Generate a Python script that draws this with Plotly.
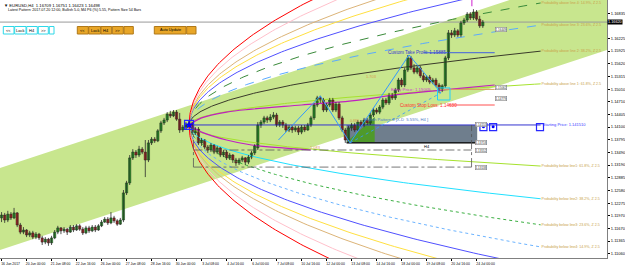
import numpy as np
import plotly.graph_objects as go

# ---------------- data ----------------
bar_open = [
 1.1192,1.1199,1.1187,1.1201,1.1192,1.1204,1.1175,1.1158,1.1163,1.1151,
 1.1156,1.1146,1.1153,1.1144,1.1134,1.1141,1.1132,1.1144,1.1158,1.1168,
 1.1161,1.1165,1.1158,1.1170,1.1163,1.1173,1.1165,1.1156,1.1168,1.1161,
 1.1170,1.1163,1.1173,1.1182,1.1189,1.1180,1.1192,1.1185,1.1177,1.1187,
 1.1252,1.1276,1.1336,1.1350,1.1343,1.1357,1.1350,1.1331,1.1372,1.1381,
 1.1377,1.1401,1.1420,1.1427,1.1441,1.1437,1.1446,1.1429,1.1403,1.1410,
 1.1415,1.1417,1.1396,1.1405,1.1372,1.1379,1.1362,1.1355,1.1367,1.1350,
 1.1360,1.1343,1.1350,1.1336,1.1343,1.1331,1.1324,1.1331,1.1336,1.1326,
 1.1338,1.1348,1.1360,1.1415,1.1422,1.1432,1.1427,1.1434,1.1439,1.1415,
 1.1422,1.1415,1.1403,1.1410,1.1403,1.1408,1.1398,1.1410,1.1403,1.1415,
 1.1432,1.1463,1.1480,1.1475,1.1451,1.1463,1.1475,1.1451,1.1465,1.1432,
 1.1403,1.1379,1.1408,1.1415,1.1403,1.1422,1.1415,1.1427,1.1420,1.1439,
 1.1451,1.1446,1.1458,1.1475,1.1468,1.1487,1.1480,1.1499,1.1523,1.1511,
 1.1547,1.1576,1.1552,1.1542,1.1552,1.1533,1.1523,1.1530,1.1518,1.1523,
 1.1511,1.1499,1.1509,1.1576,1.1636,1.1631,1.1641,1.1631,1.1660,1.1667,
 1.1681,1.1672,1.1686,1.1669,1.1653]
bar_high = [
 1.1206,1.1204,1.1209,1.1206,1.1216,1.1206,1.1180,1.1170,1.1165,1.1161,
 1.1161,1.1158,1.1156,1.1149,1.1146,1.1144,1.1149,1.1163,1.1173,1.1170,
 1.1170,1.1168,1.1175,1.1175,1.1177,1.1177,1.1170,1.1173,1.1173,1.1175,
 1.1175,1.1177,1.1187,1.1194,1.1194,1.1206,1.1197,1.1189,1.1192,1.1259,
 1.1281,1.1343,1.1357,1.1355,1.1365,1.1362,1.1379,1.1379,1.1386,1.1386,
 1.1405,1.1425,1.1432,1.1446,1.1449,1.1451,1.1451,1.1444,1.1415,1.1422,
 1.1425,1.1422,1.1410,1.1410,1.1384,1.1381,1.1367,1.1372,1.1369,1.1365,
 1.1362,1.1355,1.1355,1.1348,1.1345,1.1336,1.1336,1.1341,1.1338,1.1343,
 1.1353,1.1369,1.1422,1.1427,1.1437,1.1437,1.1441,1.1446,1.1444,1.1427,
 1.1427,1.1420,1.1415,1.1415,1.1413,1.1413,1.1415,1.1415,1.1420,1.1437,
 1.1468,1.1485,1.1485,1.1480,1.1468,1.1480,1.1480,1.1470,1.1470,1.1437,
 1.1408,1.1413,1.1420,1.1420,1.1427,1.1427,1.1432,1.1432,1.1444,1.1456,
 1.1456,1.1463,1.1480,1.1480,1.1492,1.1492,1.1504,1.1528,1.1528,1.1552,
 1.1583,1.1581,1.1561,1.1557,1.1557,1.1540,1.1535,1.1535,1.1528,1.1528,
 1.1516,1.1513,1.1581,1.1643,1.1643,1.1648,1.1645,1.1665,1.1672,1.1686,
 1.1686,1.1693,1.1691,1.1677,1.1667]
bar_low = [
 1.1182,1.1180,1.1182,1.1187,1.1189,1.1170,1.1153,1.1153,1.1146,1.1146,
 1.1141,1.1141,1.1139,1.1127,1.1129,1.1125,1.1127,1.1141,1.1153,1.1153,
 1.1156,1.1151,1.1156,1.1158,1.1161,1.1161,1.1151,1.1153,1.1156,1.1158,
 1.1158,1.1161,1.1170,1.1180,1.1175,1.1177,1.1180,1.1173,1.1175,1.1182,
 1.1247,1.1271,1.1331,1.1336,1.1338,1.1345,1.1290,1.1326,1.1367,1.1372,
 1.1374,1.1396,1.1415,1.1422,1.1432,1.1434,1.1425,1.1396,1.1398,1.1405,
 1.1408,1.1391,1.1391,1.1367,1.1365,1.1357,1.1348,1.1350,1.1345,1.1345,
 1.1338,1.1338,1.1331,1.1331,1.1324,1.1317,1.1319,1.1326,1.1319,1.1321,
 1.1333,1.1343,1.1355,1.1408,1.1417,1.1420,1.1422,1.1429,1.1410,1.1410,
 1.1408,1.1398,1.1398,1.1396,1.1398,1.1391,1.1393,1.1398,1.1401,1.1410,
 1.1427,1.1458,1.1468,1.1446,1.1446,1.1458,1.1446,1.1446,1.1427,1.1398,
 1.1372,1.1374,1.1401,1.1398,1.1401,1.1410,1.1410,1.1415,1.1415,1.1434,
 1.1441,1.1441,1.1453,1.1463,1.1463,1.1475,1.1475,1.1494,1.1506,1.1506,
 1.1542,1.1547,1.1537,1.1537,1.1528,1.1518,1.1518,1.1513,1.1513,1.1506,
 1.1492,1.1494,1.1504,1.1571,1.1624,1.1626,1.1626,1.1626,1.1655,1.1662,
 1.1667,1.1667,1.1665,1.1648,1.1648]
bar_close = [
 1.1199,1.1187,1.1201,1.1192,1.1204,1.1175,1.1158,1.1163,1.1151,1.1156,
 1.1146,1.1153,1.1144,1.1134,1.1141,1.1132,1.1144,1.1158,1.1168,1.1161,
 1.1165,1.1158,1.1170,1.1163,1.1173,1.1165,1.1156,1.1168,1.1161,1.1170,
 1.1163,1.1173,1.1182,1.1189,1.1180,1.1192,1.1185,1.1177,1.1187,1.1252,
 1.1276,1.1336,1.1350,1.1343,1.1357,1.1350,1.1331,1.1372,1.1381,1.1377,
 1.1401,1.1420,1.1427,1.1441,1.1437,1.1446,1.1429,1.1403,1.1410,1.1415,
 1.1417,1.1396,1.1405,1.1372,1.1379,1.1362,1.1355,1.1367,1.1350,1.1360,
 1.1343,1.1350,1.1336,1.1343,1.1331,1.1324,1.1331,1.1336,1.1326,1.1338,
 1.1348,1.1365,1.1415,1.1422,1.1432,1.1427,1.1434,1.1439,1.1415,1.1422,
 1.1415,1.1403,1.1410,1.1403,1.1408,1.1398,1.1410,1.1403,1.1415,1.1432,
 1.1463,1.1480,1.1475,1.1451,1.1463,1.1475,1.1451,1.1465,1.1432,1.1403,
 1.1379,1.1408,1.1415,1.1403,1.1422,1.1415,1.1427,1.1420,1.1439,1.1451,
 1.1446,1.1458,1.1475,1.1468,1.1487,1.1480,1.1499,1.1523,1.1511,1.1547,
 1.1576,1.1552,1.1542,1.1552,1.1533,1.1523,1.1530,1.1518,1.1523,1.1511,
 1.1499,1.1509,1.1576,1.1636,1.1631,1.1641,1.1631,1.1660,1.1667,1.1681,
 1.1672,1.1686,1.1669,1.1653,1.1662]
bar_idx = list(range(len(bar_open)))

tick_idx = [0, 8, 16, 24, 32, 40, 48, 56, 64, 72, 80, 88, 96, 104, 112, 120, 128, 136, 144, 152]
tick_text = ["16 Jun 2017", "20 Jun 00:00", "21 Jun 08:00", "22 Jun 16:00", "26 Jun 00:00",
             "27 Jun 08:00", "28 Jun 16:00", "30 Jun 00:00", "3 Jul 08:00", "4 Jul 16:00",
             "6 Jul 00:00", "7 Jul 08:00", "10 Jul 16:00", "12 Jul 00:00", "13 Jul 08:00",
             "14 Jul 16:00", "18 Jul 00:00", "19 Jul 08:00", "20 Jul 16:00", "24 Jul 00:00"]

price_ticks = [1.11060, 1.11365, 1.11670, 1.11970, 1.12275, 1.12580, 1.12885, 1.13190, 1.13490,
               1.13795, 1.14100, 1.14405, 1.14710, 1.15010, 1.15315, 1.15620, 1.15925, 1.16225, 1.16835]
current_price = 1.16620

# regression channel (green band) end points
channel_idx = [-0.5, 193.74]
channel_upper = [1.1312, 1.1792]
channel_lower = [1.1115, 1.1595]

# probability cone
start_idx = 60
start_price = 1.14151
cone_end_idx = 172.5
cone_coef = [0.00093, 0.00167, 0.00226, 0.00276, 0.00322, 0.00360, 0.00390, 0.00437, 0.00479]
cone_up_color = ["#a6e22e", "#3a3a2a", "#5aaaff", "#3a8a3a", "#5050ff", "#ffe040", "#dcb478", "#ffc0cb", "#ff0000"]
cone_up_dash = ["solid", "solid", "dash", "dash", "solid", "solid", "solid", "solid", "solid"]
cone_dn_color = ["#a6e22e", "#20e0ff", "#3cb043", "#6cb4ff", "#5050ff", "#ffe040", "#dcb478", "#ffc0cb", "#ff0000"]
cone_dn_dash = ["solid", "solid", "dot", "dot", "solid", "solid", "solid", "solid", "solid"]
prob_labels_up = ["Probability above line 1: 61.8%, Z 2.5", "Probability above line 2: 38.2%, Z 2.5",
                  "Probability above line 3: 23.6%, Z 2.5", "Probability above line 4: 14.9%, Z 2.5"]
prob_labels_dn = ["Probability below line1: 61.8%, Z 2.5", "Probability below line2: 38.2%, Z 2.5",
                  "Probability below line3: 23.6%, Z 2.5", "Probability below line4: 14.9%, Z 2.5"]

# harmonic pattern
zz_idx = [88.6, 102.0, 111.5, 130.4, 140.6]
zz_price = [1.1379, 1.1485, 1.1372, 1.1583, 1.1492]
purple_up_idx = [60, 64, 72, 80, 96, 112, 128, 144, 157.8]
purple_up_price = [1.1415, 1.1432, 1.1446, 1.1453, 1.1463, 1.1473, 1.1489, 1.1501, 1.1511]
purple_dn_idx = [60, 64, 72, 80, 90, 99]
purple_dn_price = [1.1415, 1.1398, 1.1379, 1.1367, 1.1360, 1.1355]
take_profit = 1.15885
stop_loss = 1.14630
entry_price = 1.15005
box_idx = [110.4, 152.2]
box_price = [1.1372, 1.14151]
tri_idx = [110.4, 119.4, 119.4]
tri_price = [1.1374, 1.1434, 1.1374]
dash_box_idx = [61.4, 150.4]
dash_box_price = [1.1314, 1.1355]

W, H = 607.0, 258.0
def px(x):
    return x / W
def py(y):
    return 1 - y / H

fig = go.Figure()

# green band
band_path = "M {},{} L {},{} L {},{} L {},{} Z".format(
    channel_idx[0], channel_upper[0], channel_idx[1], channel_upper[1],
    channel_idx[1], channel_lower[1], channel_idx[0], channel_lower[0])
fig.add_shape(type="path", path=band_path, fillcolor="#c8e68e", line=dict(width=0), layer="below")

# H4 box and dark triangle
fig.add_shape(type="rect", x0=box_idx[0], x1=box_idx[1], y0=box_price[0], y1=box_price[1],
              fillcolor="#6f7e8d", line=dict(width=0), layer="below")
tri_path = "M {},{} L {},{} L {},{} Z".format(tri_idx[0], tri_price[0], tri_idx[1], tri_price[1], tri_idx[2], tri_price[2])
fig.add_shape(type="path", path=tri_path, fillcolor="#4f9a2a", line=dict(width=0), layer="below")
fig.add_shape(type="line", x0=box_idx[0], x1=box_idx[1], y0=box_price[0], y1=box_price[0],
              line=dict(color="#000000", width=1.2), layer="below")

# current price line
fig.add_shape(type="line", x0=channel_idx[0], x1=channel_idx[1], y0=current_price, y1=current_price,
              line=dict(color="#9a9a9a", width=1), layer="below")

# dashed box
for yv in dash_box_price:
    fig.add_shape(type="line", x0=dash_box_idx[0], x1=dash_box_idx[1], y0=yv, y1=yv,
                  line=dict(color="#555555", width=0.8, dash="dashdot"))
for xv in dash_box_idx:
    fig.add_shape(type="line", x0=xv, x1=xv, y0=dash_box_price[0], y1=start_price,
                  line=dict(color="#555555", width=0.8, dash="dashdot"))

# cone curves
t = np.linspace(0, 1, 120) ** 2 * (cone_end_idx - start_idx)
for c, col, dsh in zip(cone_coef, cone_up_color, cone_up_dash):
    fig.add_trace(go.Scatter(x=start_idx + t, y=start_price + c * np.sqrt(t), mode="lines",
                             line=dict(color=col, width=1, dash=dsh), hoverinfo="skip"))
for c, col, dsh in zip(cone_coef, cone_dn_color, cone_dn_dash):
    fig.add_trace(go.Scatter(x=start_idx + t, y=start_price - c * np.sqrt(t), mode="lines",
                             line=dict(color=col, width=1, dash=dsh), hoverinfo="skip"))

# starting price line
fig.add_trace(go.Scatter(x=[start_idx, cone_end_idx], y=[start_price, start_price], mode="lines",
                         line=dict(color="#3434d0", width=1), hoverinfo="skip"))

# purple curves
fig.add_trace(go.Scatter(x=purple_up_idx, y=purple_up_price, mode="lines", line=dict(color="#c020c0", width=1.2, shape="spline")))
fig.add_trace(go.Scatter(x=purple_dn_idx, y=purple_dn_price, mode="lines", line=dict(color="#c020c0", width=1.2, shape="spline")))

# TP / SL / entry lines
fig.add_trace(go.Scatter(x=[135, 157.8], y=[take_profit, take_profit], mode="lines", line=dict(color="#4060e0", width=1)))
fig.add_trace(go.Scatter(x=[143, 157.8], y=[stop_loss, stop_loss], mode="lines", line=dict(color="#ff5050", width=1)))
fig.add_trace(go.Scatter(x=[140, 157.8], y=[entry_price, entry_price], mode="lines", line=dict(color="#d8a060", width=1)))

# candles: wicks + bodies
wx, wy = [], []
for i, h, l in zip(bar_idx, bar_high, bar_low):
    wx += [i, i, None]
    wy += [l, h, None]
fig.add_trace(go.Scatter(x=wx, y=wy, mode="lines", line=dict(color="#2a2a2a", width=0.8), hoverinfo="skip"))
body_base = [min(o, c) for o, c in zip(bar_open, bar_close)]
body_len = [max(abs(c - o), 0.00006) for o, c in zip(bar_open, bar_close)]
body_col = ["#22bb22" if c >= o else "#d81e1e" for o, c in zip(bar_open, bar_close)]
fig.add_trace(go.Bar(x=bar_idx, y=body_len, base=body_base, width=0.72,
                     marker=dict(color=body_col, line=dict(color="#1a1a1a", width=0.5)), hoverinfo="skip"))

# zigzag pattern
fig.add_trace(go.Scatter(x=zz_idx, y=zz_price, mode="lines", line=dict(color="#3399ff", width=1)))
fig.add_trace(go.Scatter(x=[zz_idx[2], zz_idx[4]], y=[zz_price[2], zz_price[4]], mode="lines",
                         line=dict(color="#3399ff", width=0.8, dash="dot")))

# entry zone box
fig.add_shape(type="rect", x0=139.5, x1=143.5, y0=1.1475, y1=1.1504, line=dict(color="#20d0ff", width=1), fillcolor="rgba(0,0,0,0)")

# markers
fig.add_trace(go.Scatter(x=[start_idx], y=[start_price], mode="markers",
                         marker=dict(symbol="square-open", size=9, color="#2828ff", line=dict(width=1.2))))
fig.add_trace(go.Scatter(x=[start_idx], y=[start_price], mode="markers",
                         marker=dict(symbol="star", size=7, color="#0000ff")))
fig.add_trace(go.Scatter(x=[154.2, 157.3, 172.3], y=[1.1410, 1.1410, 1.1410], mode="markers",
                         marker=dict(symbol="square-open", size=7, color="#2828ff", line=dict(width=1.2))))
fig.add_trace(go.Scatter(x=[154.2, 157.3], y=[1.1411, 1.1411], mode="markers",
                         marker=dict(symbol="circle", size=3, color="#0000ff")))

# right side probability labels (end at the plot edge like the clipped originals)
lab_x, lab_y, lab_t = [], [], []
for k in range(4):
    tt = cone_end_idx - start_idx
    lab_x.append(cone_end_idx + 0.3)
    lab_y.append(start_price + cone_coef[k] * np.sqrt(tt))
    lab_t.append(prob_labels_up[k])
    lab_x.append(cone_end_idx + 0.3)
    lab_y.append(start_price - cone_coef[k] * np.sqrt(tt))
    lab_t.append(prob_labels_dn[k])
fig.add_trace(go.Scatter(x=lab_x, y=lab_y, text=lab_t, mode="text", textposition="middle right",
                         textfont=dict(size=3.6, color="#c8a048", family="Liberation Sans"), cliponaxis=True))
fig.add_trace(go.Scatter(x=[cone_end_idx + 0.6], y=[start_price], text=["Starting Price: 1.141510"], mode="text",
                         textposition="middle right", textfont=dict(size=4.0, color="#3a3aff", family="Liberation Sans"),
                         cliponaxis=True))

# in-chart text
def note(x, y, text, color, size=4.2, anchor="left", **kw):
    fig.add_annotation(x=x, y=y, text=text, showarrow=False, xanchor=anchor, yanchor="middle",
                       font=dict(size=size, color=color, family="Liberation Sans"), **kw)

note(123, take_profit, "Custom Take Profit: 1.15885", "#3a3ad0", 4.6)
note(127, stop_loss, "Custom Stop Loss: 1.14630", "#ff3030", 4.6)
note(124, entry_price, "Entry Price: 1.15005", "#d030d0", 4.4)
note(115.2, 1.1428, "Bullish Pattern 8 [X-D  5.55%, H4 ]", "#4a78c8", 4.2)
note(111.0, 1.1424, "0.886", "#d89a50", 3.6)
note(116, 1.1532, "1.703", "#d89a50", 4.0)
note(98, 1.1362, "1.083", "#d89a50", 4.0)
note(136, 1.1363, "H4", "#000000", 4.0, anchor="center")

# small price boxes
small_box_idx = [151.5, 151.5, 151.5, 151.5, 157.8, 157.8, 157.8]
small_box_price = [1.1417, 1.1372, 1.1355, 1.1314, 1.1506, 1.1478, 1.1645]
small_box_text = ["1.14155", "1.13718", "1.13552", "1.13138", "1.15062", "1.14779", "1.16449"]
for xv, yv, tx in zip(small_box_idx, small_box_price, small_box_text):
    fig.add_annotation(x=xv, y=yv, text=tx, showarrow=False, xanchor="left", yanchor="middle",
                       font=dict(size=3, color="#333333"), bgcolor="#ffffff", bordercolor="#808080",
                       borderwidth=0.6, borderpad=0)

# current price tag
fig.add_annotation(x=1.0, xref="paper", y=current_price, text="1.16620", showarrow=False,
                   xanchor="left", yanchor="middle", font=dict(size=3.8, color="#ffffff"),
                   bgcolor="#000000", borderpad=0)

# header
fig.add_annotation(x=px(2), y=py(0.5), xref="paper", yref="paper", text="▼ EURUSD,H4  1.16709 1.16751 1.16423 1.16498",
                   showarrow=False, xanchor="left", yanchor="top", font=dict(size=4.2, color="#000000"))
fig.add_annotation(x=px(6), y=py(5.5), xref="paper", yref="paper",
                   text="Latest Pattern: 2017.07.20 12:00, Bullish 5-0, M4 P6 (%) 5.55, Pattern Size 54 Bars",
                   showarrow=False, xanchor="left", yanchor="top", font=dict(size=3.6, color="#000000"))

# buttons
def button(x0, x1, text, fill, border, tcolor, size=4):
    fig.add_shape(type="rect", xref="paper", yref="paper", x0=px(x0), x1=px(x1), y0=py(34), y1=py(26.5),
                  fillcolor=fill, line=dict(color=border, width=1))
    if text:
        fig.add_annotation(x=px((x0 + x1) / 2), y=py(30.3), xref="paper", yref="paper", text=text, showarrow=False,
                           xanchor="center", yanchor="middle", font=dict(size=size, color=tcolor))

for (a, b, tx) in [(3.3, 14, "<<"), (14.7, 26, "Lock"), (26.7, 37.3, "H4"), (38.3, 48.3, ">>")]:
    button(a, b, tx, "#ffffff", "#30d8e8", "#000000")
button(49.3, 54, "", "#ffffff", "#30d8e8", "#000000")
for (a, b, tx) in [(77.3, 88.3, "<<"), (88.7, 100.7, "Lock"), (101, 111.7, "H4"), (112.3, 123.3, ">>")]:
    button(a, b, tx, "#e8a628", "#b07818", "#000000")
button(124, 133.3, "", "#e8a628", "#b07818", "#000000")
button(154.3, 186, "Auto Update", "#e8a628", "#b07818", "#000000", 3.8)
button(186.7, 196, "", "#e8a628", "#b07818", "#000000")

# magenta tick at top
fig.add_shape(type="line", x0=150.5, x1=150.5, y0=1.1700, y1=1.1715, line=dict(color="#d020d0", width=1))

fig.update_layout(width=625, height=267, margin=dict(l=0, r=18, t=0, b=9),
                  paper_bgcolor="#ffffff", plot_bgcolor="#ffffff", showlegend=False,
                  barmode="overlay", font=dict(family="Liberation Sans", size=4, color="#000000"))
fig.update_xaxes(range=[-0.5, 193.74], tickvals=tick_idx, ticktext=tick_text, tickfont=dict(size=3.4),
                 ticks="outside", ticklen=2, tickcolor="#000000", showgrid=False, zeroline=False,
                 showline=True, linecolor="#808080", linewidth=1,
                 ticklabelshift=9, ticklabelstandoff=0)
fig.update_yaxes(range=[1.10958, 1.1715], side="right", tickvals=price_ticks,
                 ticktext=["{:.5f}".format(v) for v in price_ticks], tickfont=dict(size=4),
                 ticks="outside", ticklen=2, tickcolor="#000000", showgrid=False, zeroline=False,
                 showline=True, linecolor="#808080", linewidth=1)

fig.write_html("out.html")
